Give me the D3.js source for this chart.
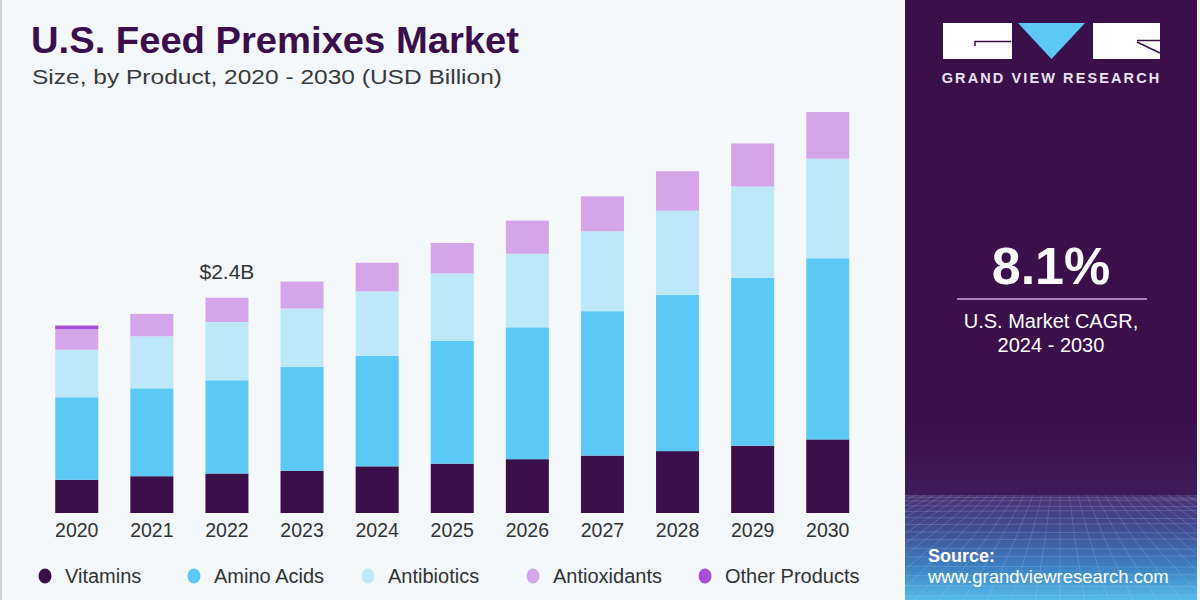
<!DOCTYPE html>
<html><head><meta charset="utf-8">
<script src="https://cdn.jsdelivr.net/npm/d3@7"></script>
<style>html,body{margin:0;padding:0;background:#f4f8fb;}svg{display:block;}</style>
</head><body>
<svg id="c" width="1200" height="600"></svg>
<script>
const years = ["2020","2021","2022","2023","2024","2025","2026","2027","2028","2029","2030"];
const vitamins     = [0.37,0.41,0.44,0.47,0.52,0.55,0.60,0.64,0.69,0.75,0.82];
const aminoAcids   = [0.92,0.98,1.04,1.16,1.23,1.37,1.47,1.61,1.74,1.87,2.02];
const antibiotics  = [0.53,0.58,0.65,0.65,0.72,0.75,0.82,0.89,0.94,1.02,1.11];
const antioxidants = [0.23,0.25,0.27,0.30,0.32,0.34,0.37,0.39,0.44,0.48,0.52];
const otherProducts= [0.04,0,0,0,0,0,0,0,0,0,0];
const seriesNames = ["Vitamins","Amino Acids","Antibiotics","Antioxidants","Other Products"];
const seriesColors = ["#3a0f4a","#5bc8f5","#bde8f9","#d4a5e8","#a64fd6"];
const annotYear = "2022", annotText = "$2.4B";

const svg = d3.select("#c");
const font = "'Liberation Sans', Arial, sans-serif";

// backgrounds
svg.append("rect").attr("x",0).attr("y",0).attr("width",1200).attr("height",600).attr("fill","#f4f8fb");
svg.append("rect").attr("x",0).attr("y",0).attr("width",2).attr("height",600).attr("fill","#cfd3d8");

// right panel
const defs = svg.append("defs");
const g1 = defs.append("linearGradient").attr("id","pg").attr("x1",0).attr("y1",0).attr("x2",0).attr("y2",1);
[[0,"#4a3172"],[0.35,"#414f97"],[0.7,"#3d83c4"],[1,"#56bbe8"]].forEach(s=>g1.append("stop").attr("offset",s[0]).attr("stop-color",s[1]));
const g0 = defs.append("linearGradient").attr("id","pt").attr("x1",0).attr("y1",0).attr("x2",0).attr("y2",1);
[[0,"#3b104a"],[0.85,"#3b104a"],[1,"#3e1c58"]].forEach(s=>g0.append("stop").attr("offset",s[0]).attr("stop-color",s[1]));
defs.append("clipPath").attr("id","meshclip").append("rect").attr("x",905).attr("y",495).attr("width",292).attr("height",105);

svg.append("rect").attr("x",905).attr("y",0).attr("width",292).attr("height",495).attr("fill","url(#pt)");
svg.append("rect").attr("x",905).attr("y",495).attr("width",292).attr("height",105).attr("fill","url(#pg)");
const mesh = svg.append("g").attr("clip-path","url(#meshclip)").attr("stroke","#cfe6ff").attr("stroke-opacity",0.22).attr("stroke-width",0.8).attr("fill","none");
for (let k=0;k<16;k++){ const y = 495 + Math.pow(k,1.45)*2.2; mesh.append("line").attr("x1",905).attr("x2",1197).attr("y1",y).attr("y2",y+ (k%2?1:-1)); }
for (let k=-30;k<=30;k++){ mesh.append("path").attr("d",`M${1060+k*6},470 Q${1060+k*14},540 ${1060+k*26},610`); }

// logo
const logo = svg.append("g");
logo.append("rect").attr("x",943).attr("y",23).attr("width",69).attr("height",36).attr("fill","#ffffff");
logo.append("path").attr("d","M975,46 L975,41.5 L1011,41.5").attr("stroke","#3b104a").attr("stroke-width",1.5).attr("fill","none");
logo.append("path").attr("d","M1018,23 L1085,23 L1051.5,59 Z").attr("fill","#5bc8f5");
logo.append("rect").attr("x",1093).attr("y",23).attr("width",67).attr("height",36).attr("fill","#ffffff");
logo.append("path").attr("d","M1137,40.5 L1160,40.5 M1137,42 L1160,53").attr("stroke","#3b104a").attr("stroke-width",1.5).attr("fill","none");
svg.append("text").attr("x",1051.5).attr("y",83).attr("text-anchor","middle").attr("fill","#e8e2f0")
  .attr("font-family",font).attr("font-weight","bold").attr("font-size",14.5).attr("letter-spacing",2.1).text("GRAND VIEW RESEARCH");

// CAGR
svg.append("text").attr("x",1051).attr("y",284).attr("text-anchor","middle").attr("fill","#ffffff")
  .attr("font-family",font).attr("font-weight","bold").attr("font-size",52).text("8.1%");
svg.append("line").attr("x1",957).attr("x2",1147).attr("y1",299).attr("y2",299).attr("stroke","#c9a8e0").attr("stroke-width",1.5);
svg.append("text").attr("x",1051).attr("y",328).attr("text-anchor","middle").attr("fill","#ffffff")
  .attr("font-family",font).attr("font-size",20).text("U.S. Market CAGR,");
svg.append("text").attr("x",1051).attr("y",352).attr("text-anchor","middle").attr("fill","#ffffff")
  .attr("font-family",font).attr("font-size",20).text("2024 - 2030");

// source
svg.append("text").attr("x",928).attr("y",562).attr("fill","#ffffff").attr("font-family",font).attr("font-weight","bold").attr("font-size",18).text("Source:");
svg.append("text").attr("x",928).attr("y",583).attr("fill","#ffffff").attr("font-family",font).attr("font-size",18.5).text("www.grandviewresearch.com");

// title
svg.append("text").attr("x",31).attr("y",53).attr("fill","#3b0f4d").attr("font-family",font).attr("font-weight","bold").attr("font-size",36)
  .attr("textLength",488).attr("lengthAdjust","spacingAndGlyphs").text("U.S. Feed Premixes Market");
svg.append("text").attr("x",32).attr("y",84).attr("fill","#3a3a3a").attr("font-family",font).attr("font-size",21)
  .attr("textLength",470).attr("lengthAdjust","spacingAndGlyphs").text("Size, by Product, 2020 - 2030 (USD Billion)");

// chart
const x = d3.scaleBand().domain(years).range([39.2,865.3]).paddingInner(0.427).paddingOuter(0.2135);
const y = d3.scaleLinear().domain([0,5]).range([513,64.5]);
const table = years.map((yr,i)=>({year:yr, "Vitamins":vitamins[i], "Amino Acids":aminoAcids[i], "Antibiotics":antibiotics[i], "Antioxidants":antioxidants[i], "Other Products":otherProducts[i]}));
const stack = d3.stack().keys(seriesNames)(table);
const color = d3.scaleOrdinal().domain(seriesNames).range(seriesColors);

svg.append("g").selectAll("g").data(stack).join("g").attr("fill",d=>color(d.key))
  .selectAll("rect").data(d=>d).join("rect")
  .attr("x",d=>x(d.data.year)).attr("width",x.bandwidth())
  .attr("y",d=>y(d[1])).attr("height",d=>Math.max(0,y(d[0])-y(d[1])));

const xAxis = svg.append("g").attr("transform","translate(0,513)").call(d3.axisBottom(x).tickSize(0).tickPadding(6));
xAxis.select(".domain").remove();
xAxis.selectAll("text").attr("font-family",font).attr("font-size",19.5).attr("fill","#333").attr("dy","0.9em");

// annotation
const ai = years.indexOf(annotYear);
const aTop = d3.sum(seriesNames, k=>table[ai][k]);
svg.append("text").attr("x",x(annotYear)+x.bandwidth()/2).attr("y",y(aTop)-19).attr("text-anchor","middle")
  .attr("fill","#333").attr("font-family",font).attr("font-size",21).text(annotText);

// legend
const legX = [45,194,368,533,705];
const leg = svg.append("g").selectAll("g").data(seriesNames).join("g").attr("transform",(d,i)=>`translate(${legX[i]},576)`);
leg.append("ellipse").attr("rx",6.5).attr("ry",7.5).attr("fill",d=>color(d));
leg.append("text").attr("x",20).attr("y",6.5).attr("font-family",font).attr("font-size",20).attr("fill","#333").text(d=>d);

svg.append("rect").attr("x",1197).attr("y",0).attr("width",3).attr("height",600).attr("fill","#eef2f6");
</script>
</body></html>
